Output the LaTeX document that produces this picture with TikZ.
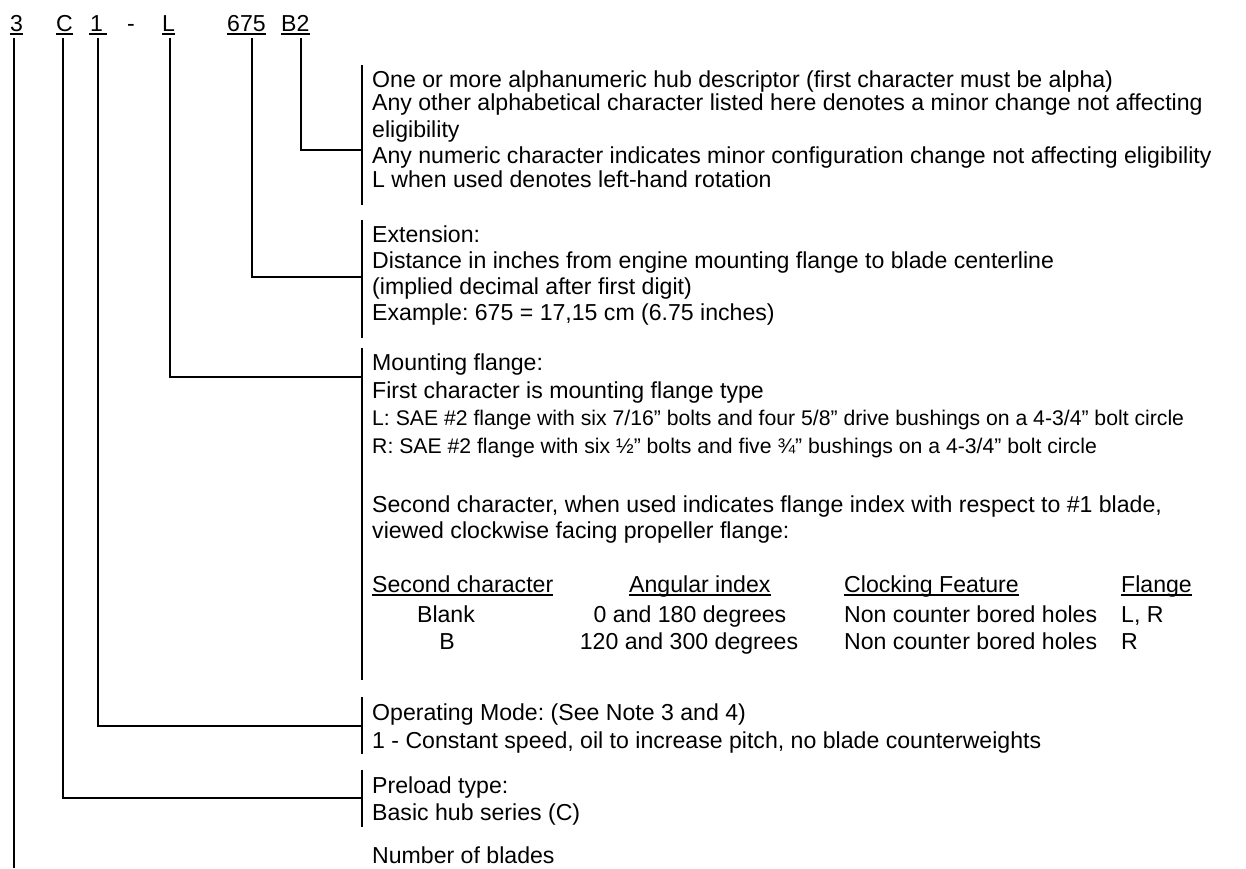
\documentclass[tikz,border=0pt]{standalone}
\usepackage{fontspec}
\setmainfont{Liberation Sans}
\frenchspacing
\begin{document}
\begin{tikzpicture}[x=1pt,y=-1pt,
  txt/.style={anchor=base west, inner sep=0pt, font=\fontsize{23.1}{27}\selectfont},
  sml/.style={anchor=base west, inner sep=0pt, font=\fontsize{21.2}{24}\selectfont},
  ctr/.style={anchor=base, inner sep=0pt, font=\fontsize{23.1}{27}\selectfont},
  link/.style={line width=1.9pt},
  bar/.style={line width=1.9pt},
  ul/.style={line width=1.5pt}]
\fill[white] (0,0) rectangle (1246,868);
\useasboundingbox (0,0) rectangle (1246,868);

% header code
\node[txt] (h3)   at (10,31)  {3};
\node[txt] (hC)   at (56,31)  {C};
\node[txt] (h1)   at (90,31)  {1};
\node[txt] (hd)   at (127,31) {-};
\node[txt] (hL)   at (162,31) {L};
\node[txt] (h675) at (227,31) {675};
\node[txt] (hB2)  at (281,31) {B2};
\draw[ul] ([yshift=-3pt]h3.base west)   -- ([yshift=-3pt]h3.base east);
\draw[ul] ([yshift=-3pt]hC.base west)   -- ([yshift=-3pt]hC.base east);
\draw[ul] ([yshift=-3pt,xshift=-1pt]h1.base west) -- ++(18,0);
\draw[ul] ([yshift=-3pt]hL.base west)   -- ([yshift=-3pt]hL.base east);
\draw[ul] ([yshift=-3pt]h675.base west) -- ([yshift=-3pt]h675.base east);
\draw[ul] ([yshift=-3pt]hB2.base west)  -- ([yshift=-3pt]hB2.base east);

% tops of the connectors
\coordinate (t3)   at (14,38);
\coordinate (tC)   at (63,38);
\coordinate (t1)   at (98,38);
\coordinate (tL)   at (170,38);
\coordinate (t675) at (252,38);
\coordinate (tB2)  at (301,38);

% joints on the bars
\coordinate (jB2)  at (362,150);
\coordinate (j675) at (362,277);
\coordinate (jL)   at (362,377);
\coordinate (j1)   at (362,726);
\coordinate (jC)   at (362,798);
\coordinate (j3)   at (14,868);

% bars
\coordinate (a1) at (362,65);  \coordinate (b1) at (362,205);
\coordinate (a2) at (362,220); \coordinate (b2) at (362,338);
\coordinate (a3) at (362,348); \coordinate (b3) at (362,680);
\coordinate (a4) at (362,697); \coordinate (b4) at (362,754);
\coordinate (a5) at (362,770); \coordinate (b5) at (362,827);
\draw[bar] (a1) -- (b1);
\draw[bar] (a2) -- (b2);
\draw[bar] (a3) -- (b3);
\draw[bar] (a4) -- (b4);
\draw[bar] (a5) -- (b5);

% connectors
\draw[link] (tB2) |- (jB2);
\draw[link] (t675) |- (j675);
\draw[link] (tL) |- (jL);
\draw[link] (t1) |- (j1);
\draw[link] (tC) |- (jC);
\draw[link] (t3) -- (j3);

% block 1
\node[txt] (l11) at (372,87)  {One or more alphanumeric hub descriptor (first character must be alpha)};
\node[txt] (l12) at (372,110) {Any other alphabetical character listed here denotes a minor change not affecting};
\node[txt] (l13) at (372,137) {eligibility};
\node[txt] (l14) at (372,163) {Any numeric character indicates minor configuration change not affecting eligibility};
\node[txt] (l15) at (372,187) {L when used denotes left-hand rotation};

% block 2
\node[txt] (l21) at (372,242) {Extension:};
\node[txt] (l22) at (372,268) {Distance in inches from engine mounting flange to blade centerline};
\node[txt] (l23) at (372,294) {(implied decimal after first digit)};
\node[txt] (l24) at (372,320) {Example: 675 = 17,15 cm (6.75 inches)};

% block 3
\node[txt] (l31) at (372,370) {Mounting flange:};
\node[txt] (l32) at (372,398) {First character is mounting flange type};
\node[sml] (l33) at (372,425) {L: SAE \#2 flange with six 7/16” bolts and four 5/8” drive bushings on a 4-3/4” bolt circle};
\node[sml] (l34) at (372,453) {R: SAE \#2 flange with six ½” bolts and five ¾” bushings on a 4-3/4” bolt circle};
\node[txt] (l35) at (372,512) {Second character, when used indicates flange index with respect to \#1 blade,};
\node[txt] (l36) at (372,538) {viewed clockwise facing propeller flange:};

% table
\node[txt] (th1) at (372,592)  {Second character};
\node[txt] (th2) at (629,592)  {Angular index};
\node[txt] (th3) at (844,592)  {Clocking Feature};
\node[txt] (th4) at (1121,592) {Flange};
\draw[ul] ([yshift=-3pt]th1.base west) -- ([yshift=-3pt]th1.base east);
\draw[ul] ([yshift=-3pt]th2.base west) -- ([yshift=-3pt]th2.base east);
\draw[ul] ([yshift=-3pt]th3.base west) -- ([yshift=-3pt]th3.base east);
\draw[ul] ([yshift=-3pt]th4.base west) -- ([yshift=-3pt]th4.base east);
\node[ctr] (r11) at (446,622) {Blank};
\node[ctr] (r12) at (690,622) {0 and 180 degrees};
\node[txt] (r13) at (844,622) {Non counter bored holes};
\node[txt] (r14) at (1121,622) {L, R};
\node[ctr] (r21) at (447,649) {B};
\node[ctr] (r22) at (689,649) {120 and 300 degrees};
\node[txt] (r23) at (844,649) {Non counter bored holes};
\node[txt] (r24) at (1121,649) {R};

% block 4
\node[txt] (l41) at (372,720) {Operating Mode: (See Note 3 and 4)};
\node[txt] (l42) at (372,748) {1 - Constant speed, oil to increase pitch, no blade counterweights};

% block 5
\node[txt] (l51) at (372,793) {Preload type:};
\node[txt] (l52) at (372,820) {Basic hub series (C)};

% block 6
\node[txt] (l61) at (372,863) {Number of blades};
\end{tikzpicture}
\end{document}
